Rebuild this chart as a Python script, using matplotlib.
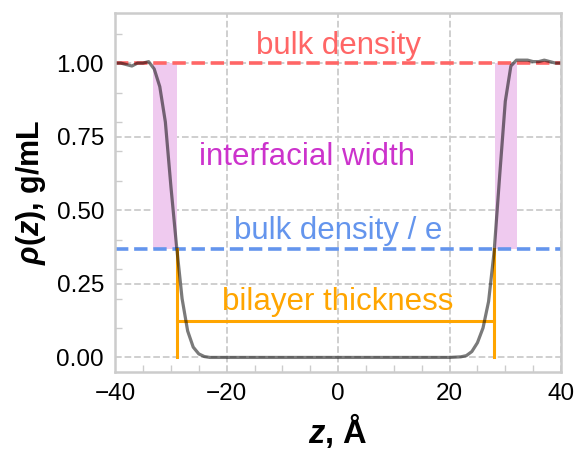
import numpy as np
import matplotlib
matplotlib.use("Agg")
import matplotlib.pyplot as plt
from matplotlib.ticker import MultipleLocator

plt.rcParams['font.family'] = ['Liberation Sans', 'DejaVu Sans']
plt.rcParams['mathtext.fontset'] = 'custom'
plt.rcParams['mathtext.it'] = 'Liberation Sans:italic:bold'
plt.rcParams['mathtext.rm'] = 'Liberation Sans:bold'

# density profile
z = [-40, -39, -38, -37, -36, -35, -34, -33, -32, -31, -30, -29, -28, -27, -26,
     -25, -24, -23, -20, -10, 0, 10, 20, 22, 23, 24, 25, 26, 27, 28, 29, 30,
     31, 32, 33, 34, 35, 36, 37, 38, 39, 40]
rho = [1.00, 1.00, 0.995, 0.99, 1.00, 1.00, 1.005, 0.98, 0.92, 0.80, 0.58, 0.38,
       0.20, 0.09, 0.035, 0.012, 0.003, 0.0, 0.0, 0.0, 0.0, 0.0, 0.0, 0.002,
       0.006, 0.02, 0.05, 0.10, 0.19, 0.36, 0.62, 0.87, 0.99, 1.01, 1.01, 1.01,
       1.005, 1.005, 1.01, 1.005, 1.00, 1.00]

bulk = 1.0
bulk_e = bulk / np.e
left_width = [-33.2, -28.9]
right_width = [28.1, 32.1]
thickness = [-28.9, 28.0]
thick_y = 0.123

fig = plt.figure(figsize=(5.76, 4.5), dpi=100)
ax = fig.add_axes([0.2, 0.173, 0.774, 0.798])

ax.grid(True, ls='--', color='#cccccc', lw=1.3)
ax.set_axisbelow(True)

ax.axhline(bulk, color='#ff6666', ls='--', lw=2.6)
ax.axhline(bulk_e, color='cornflowerblue', ls='--', lw=2.6)

ax.fill_between(left_width, bulk_e, bulk, color='#efcaef', lw=0)
ax.fill_between(right_width, bulk_e, bulk, color='#efcaef', lw=0)

ax.plot([thickness[0], thickness[0]], [0, bulk_e], color='orange', lw=2.2)
ax.plot([thickness[1], thickness[1]], [0, bulk_e], color='orange', lw=2.2)
ax.plot(thickness, [thick_y, thick_y], color='orange', lw=2.2)

ax.plot(z, rho, color='k', alpha=0.52, lw=2.3)

fs = 22.5
ax.text(0, 1.058, 'bulk density', color='#ff6666', fontsize=fs, ha='center', va='center')
ax.text(-5.5, 0.68, 'interfacial width', color='#cc33cc', fontsize=fs, ha='center', va='center')
ax.text(0, 0.428, 'bulk density / e', color='cornflowerblue', fontsize=fs, ha='center', va='center')
ax.text(0, 0.19, 'bilayer thickness', color='orange', fontsize=fs, ha='center', va='center')

ax.set_xlim(-40, 40)
ax.set_ylim(-0.05, 1.17)
ax.set_xticks([-40, -20, 0, 20, 40])
ax.set_yticks([0, 0.25, 0.5, 0.75, 1.0])
ax.xaxis.set_minor_locator(MultipleLocator(5))
ax.yaxis.set_minor_locator(MultipleLocator(0.1))
ax.tick_params(which='major', length=0, labelsize=17.5, pad=8)
ax.tick_params(which='minor', direction='in', length=5, width=1, color='#cccccc')

for s in ax.spines.values():
    s.set_color('#cccccc')
    s.set_linewidth(1.8)

ax.set_xlabel(r'$z$, Å', fontsize=23.5, fontweight='bold', labelpad=4)
ax.set_ylabel(r'$\rho(z)$, g/mL', fontsize=22, fontweight='bold', labelpad=6)

fig.savefig('out.png', dpi=100)
